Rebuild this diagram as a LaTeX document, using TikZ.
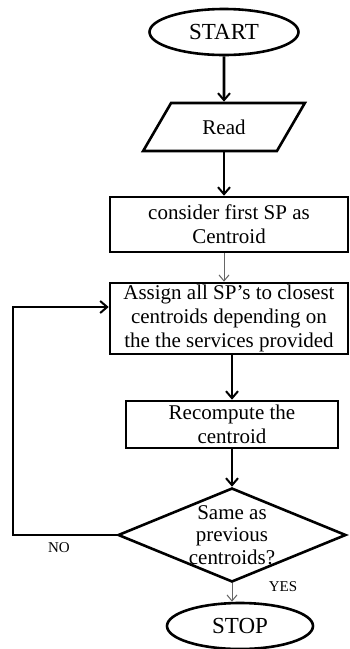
\documentclass[tikz,border=0pt]{standalone}
\usepackage{fontspec}
\setmainfont{Liberation Serif}
\usetikzlibrary{shapes.geometric,arrows.meta}
\begin{document}
\begin{tikzpicture}[x=1pt,y=-1pt,
  every node/.style={font=\fontsize{21}{24}\selectfont, inner sep=0pt, align=center},
  boxshape/.style={draw, line width=2.6pt, rectangle},
  term/.style={draw, line width=2.6pt, ellipse, font=\fontsize{23}{26}\selectfont},
  thickarrow/.style={line width=2.8pt, -{Straight Barb[length=7pt,width=12pt,line width=2pt]}},
  thinarrow/.style={line width=1pt, draw=black!60, -{Straight Barb[length=6pt,width=10pt,line width=1pt]}},
  lbl/.style={font=\fontsize{15}{16}\selectfont}]
\useasboundingbox (0,0) rectangle (349,649);
\node[term, minimum width=149pt, minimum height=46pt] (start) at (224,32) {START};
\node[draw, line width=2.6pt, trapezium, trapezium left angle=58, trapezium right angle=122,
  trapezium stretches=true, inner sep=3pt, minimum width=162pt, minimum height=48pt] (read) at (224,127) {Read};
\node[boxshape, minimum width=238pt, minimum height=55pt] (box1) at (229,224.5) {consider first SP as\\Centroid};
\node[boxshape, minimum width=238pt, minimum height=71pt] (box2) at (229,318.5) {Assign all SP's to closest\\centroids depending on\\the the services provided};
\node[boxshape, minimum width=212pt, minimum height=47pt] (box3) at (232,424.5) {Recompute the\\centroid};
\node[draw, line width=2.6pt, diamond, inner sep=1pt, minimum width=228pt, minimum height=94pt] (dia) at (232,535) {\strut};
\node[font=\fontsize{21}{22.5}\selectfont] (diatxt) at (232,535) {Same as\\previous\\centroids?};
\node[term, minimum width=146pt, minimum height=46pt] (stop) at (240,626) {STOP};
\node[lbl] (no) at (59,548) {NO};
\node[lbl] (yes) at (283,587) {YES};
\coordinate (loop) at (13,307);
\draw[thickarrow] (start.south) -- (read.north);
\draw[thickarrow] (read.south) -- (read.south |- box1.north);
\draw[thinarrow] (box1.south -| start) -- (box2.north -| start);
\draw[thickarrow] (box2.south -| box3.north) -- (box3.north);
\draw[thickarrow] (box3.south) -- (box3.south |- dia.north);
\draw[thinarrow] (dia.south) -- (dia.south |- stop.north);
\draw[thickarrow] (dia.west) -| (loop) -- (loop -| box2.west);
\end{tikzpicture}
\end{document}
